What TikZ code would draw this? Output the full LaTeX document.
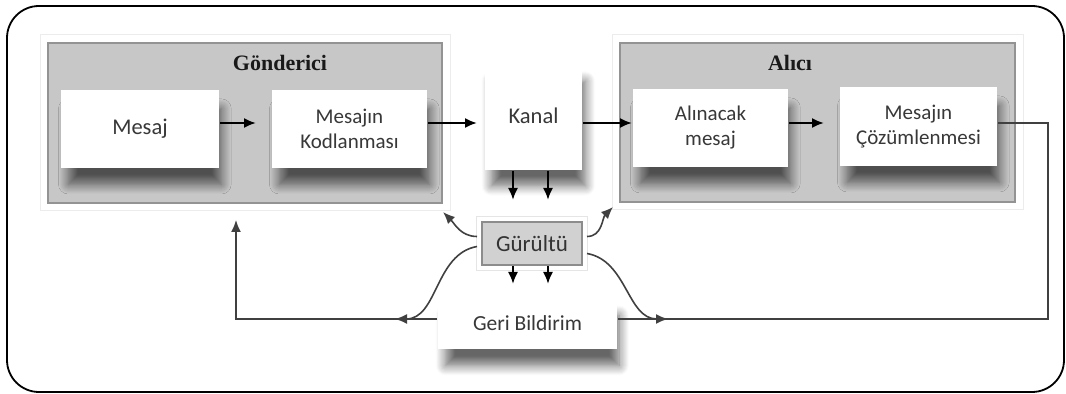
\documentclass[tikz,border=0pt]{standalone}
\usepackage{fontspec}
\setmainfont{Carlito}
\newfontfamily\baslikfont{Liberation Serif}
\usetikzlibrary{arrows.meta,shadows.blur}
\definecolor{grupgri}{gray}{0.78}
\definecolor{gurgri}{gray}{0.82}
\definecolor{yazi}{gray}{0.22}
\definecolor{hat}{gray}{0.25}
\begin{document}
\begin{tikzpicture}[x=0.5pt,y=-0.5pt,->,>={Latex[length=6pt,width=5pt]},line width=1pt,
	grup/.style={rectangle,fill=grupgri,draw=gray!85,line width=1pt,preaction={draw=gray!15,line width=8.5pt},preaction={draw=white,line width=7.5pt}},
	baslik/.style={text=black!90,font=\baslikfont\bfseries\fontsize{11}{13}\selectfont},
	kutu/.style={rectangle,fill=white,text=yazi,align=center,inner sep=0pt,font=\fontsize{10.5}{12.5}\selectfont,blur shadow={shadow xshift=2.5pt,shadow yshift=-9pt,shadow scale=0.97,shadow blur radius=5pt,shadow blur steps=10,shadow opacity=60}},
	tekli/.style={font=\fontsize{11.25}{13}\selectfont},
	gurultu/.style={rectangle,fill=gurgri,draw=gray!90,text=black!80,line width=1pt,font=\fontsize{11.5}{13}\selectfont,preaction={draw=gray!20,line width=5.6pt},preaction={draw=white,line width=4.6pt}},
	geri hat/.style={draw=hat,line width=0.8pt},
	egri/.style={draw=hat,line width=0.8pt}]
	\useasboundingbox (0,0) rectangle (1066,394);
	\draw[-,line width=0.9pt,rounded corners=16pt] (7,6) rectangle (1064,392);

	% gruplar
	\node[grup,minimum width=197pt,minimum height=80pt] (gond) at (245,123) {};
	\node[grup,minimum width=197.5pt,minimum height=79.5pt] (alici) at (817.5,122.5) {};
	\node[baslik] (gondbaslik) at (280,63) {Gönderici};
	\node[baslik] (alicibaslik) at (790,63) {Alıcı};

	% kutular
	\node[kutu,tekli,minimum width=79pt,minimum height=39pt] (mesaj) at (140,129) {Mesaj};
	\node[kutu,minimum width=77.5pt,minimum height=39pt] (kodlama) at (349.5,129) {Mesajın\\Kodlanması};
	\node[kutu,tekli,minimum width=48.5pt,minimum height=54pt] (kanal) at (533.5,116) {Kanal};
	\node[kutu,minimum width=77.5pt,minimum height=39pt] (alinacak) at (710.5,128) {Alınacak\\mesaj};
	\node[kutu,minimum width=78.5pt,minimum height=39.5pt] (cozum) at (918.5,126.5) {Mesajın\\Çözümlenmesi};
	\node[kutu,font=\fontsize{10.75}{12}\selectfont,minimum width=89.5pt,minimum height=26pt] (geri) at (527.5,323) {Geri Bildirim};
	\node[gurultu,minimum width=50pt,minimum height=21.5pt] (gur) at (532,243.5) {Gürültü};

	\coordinate (sira) at (0,123);
	\coordinate (donus) at (236,319);
	\coordinate (sag) at (1048,319);
	\coordinate (ok1) at (513,0);
	\coordinate (ok2) at (548,0);
	\coordinate (solok) at (395,319);
	\coordinate (sagok) at (668,319);

	% ana akis
	\draw[shorten >=7.5pt] (mesaj.east |- sira) -- (kodlama.west |- sira);
	\draw[shorten >=3.5pt] (kodlama.east |- sira) -- (kanal.west |- sira);
	\draw (kanal.east |- sira) -- (alinacak.west |- sira);
	\draw[shorten >=7.5pt] (alinacak.east |- sira) -- (cozum.west |- sira);

	% gurultu
	\draw[shorten >=10.5pt] (kanal.south -| ok1) -- (gur.north -| ok1);
	\draw[shorten >=10.5pt] (kanal.south -| ok2) -- (gur.north -| ok2);
	\draw[shorten >=6pt] (gur.south -| ok1) -- (geri.north -| ok1);
	\draw[shorten >=6pt] (gur.south -| ok2) -- (geri.north -| ok2);
	\draw[egri] ([xshift=-2pt,yshift=3.5pt]gur.west) to[out=180,in=-45] ([yshift=-4pt]gond.south east);
	\draw[egri] ([xshift=2pt,yshift=3.5pt]gur.east) to[out=0,in=-135] ([xshift=-3pt,yshift=-2pt]alici.south west);
	\draw[egri] ([xshift=-2pt,yshift=-1.5pt]gur.west) to[out=190,in=0] (solok);
	\draw[egri] ([xshift=2pt,yshift=-5pt]gur.east) to[out=-10,in=180] (sagok);

	% geri bildirim
	\draw[-,geri hat] (cozum.east |- sira) -| (sag) -- (geri.east |- sag);
	\draw[geri hat,shorten >=8pt] (geri.west |- donus) -- (donus) -- (donus |- gond.south);
\end{tikzpicture}
\end{document}
